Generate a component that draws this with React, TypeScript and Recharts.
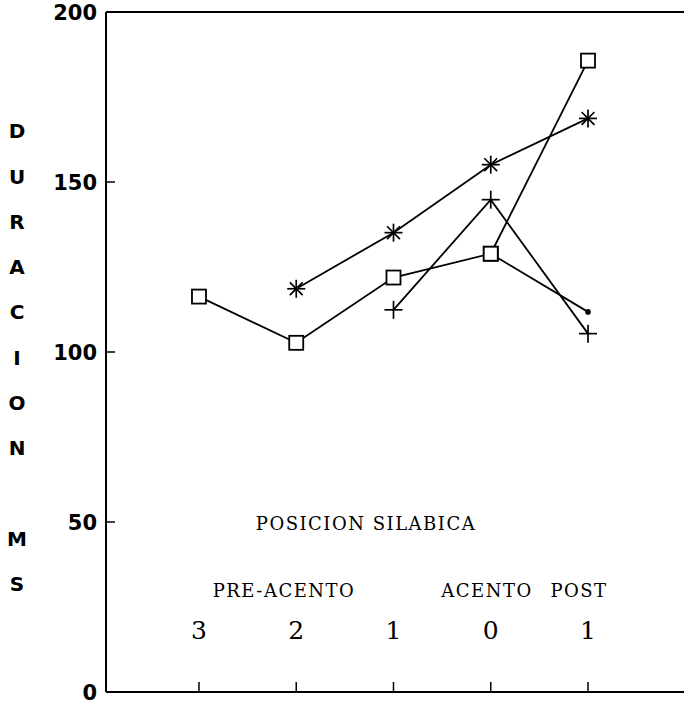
import React from "react";
import { LineChart, Line, XAxis, YAxis, ReferenceLine } from "recharts";

// silabic positions: 3, 2, 1 pre-accent, 0 accent, 1 post-accent
const positions = [0, 1, 2, 3, 4];
const posLabels = ["3", "2", "1", "0", "1"];

// duration (ms)
const squareA = [116.3, 102.7, 121.9, 128.9, 111.8];
const asterisk = [null, 118.6, 135.1, 155.1, 168.7];
const cross = [null, null, 112.4, 144.8, 105.4];
const squareB = [null, null, null, 128.9, 185.7];

const yTicks = [0, 50, 100, 150, 200];
const yLetters = ["D", "U", "R", "A", "C", "I", "O", "N", "", "M", "S"];

const data = positions.map((p, i) => ({
  pos: p,
  squareA: squareA[i],
  asterisk: asterisk[i],
  cross: cross[i],
  squareB: squareB[i],
}));

const INK = "#000";
const SERIF = "'DejaVu Serif', serif";
const SANS = "'DejaVu Sans', sans-serif";

const empty = (props: any) => <g key={`e-${props.index}`} />;

const squareDot = (props: any) => {
  const { cx, cy, index, value } = props;
  if (cy == null || value == null) return empty(props);
  return (
    <rect key={`s-${index}`} x={cx - 7} y={cy - 7} width={14} height={14}
      fill="#fff" stroke={INK} strokeWidth={1.8} />
  );
};

const squareOrPoint = (props: any) => {
  const { cx, cy, index, value } = props;
  if (cy == null || value == null) return empty(props);
  if (index === 4) return <circle key={`p-${index}`} cx={cx} cy={cy} r={2.8} fill={INK} />;
  return squareDot(props);
};

const asteriskDot = (props: any) => {
  const { cx, cy, index, value } = props;
  if (cy == null || value == null) return empty(props);
  const r = 9;
  const d = 6.4;
  return (
    <g key={`a-${index}`} stroke={INK} strokeWidth={1.7}>
      <line x1={cx - r} y1={cy} x2={cx + r} y2={cy} />
      <line x1={cx} y1={cy - r} x2={cx} y2={cy + r} />
      <line x1={cx - d} y1={cy - d} x2={cx + d} y2={cy + d} />
      <line x1={cx - d} y1={cy + d} x2={cx + d} y2={cy - d} />
    </g>
  );
};

const crossDot = (props: any) => {
  const { cx, cy, index, value } = props;
  if (cy == null || value == null) return empty(props);
  return (
    <g key={`c-${index}`} stroke={INK} strokeWidth={1.7}>
      <line x1={cx - 9} y1={cy} x2={cx + 9} y2={cy} />
      <line x1={cx} y1={cy - 9} x2={cx} y2={cy + 9} />
    </g>
  );
};

const XTick = (props: any) => {
  const { x, y, payload } = props;
  return (
    <g>
      <line x1={x} x2={x} y1={y} y2={y - 10} stroke={INK} strokeWidth={1.5} />
      <text x={x} y={y - 53} textAnchor="middle" fontFamily={SERIF} fontSize={25} fill={INK}>
        {posLabels[payload.value]}
      </text>
    </g>
  );
};

const YTick = (props: any) => {
  const { x, y, payload } = props;
  return (
    <g>
      <line x1={x} x2={x + 9} y1={y} y2={y} stroke={INK} strokeWidth={1.5} />
      <text x={x - 9} y={y} dy="0.36em" textAnchor="end" fontFamily={SANS}
        fontWeight="bold" fontSize={21} fill={INK}>
        {payload.value}
      </text>
    </g>
  );
};

const serifText = {
  fontFamily: SERIF,
  fontSize: 18,
  letterSpacing: 1.5,
  fill: INK,
};

export default function App() {
  return (
    <div style={{ position: "fixed", left: 0, top: 0, width: 684, height: 704, background: "#fff" }}>
      <LineChart width={684} height={704} data={data}
        margin={{ top: 12, right: 0, bottom: 0, left: 0 }}>
        <XAxis dataKey="pos" type="number" domain={[-0.956, 4.987]} ticks={positions}
          interval={0} height={12} tickSize={0} tickMargin={0} tickLine={false}
          axisLine={{ stroke: INK, strokeWidth: 2 }} tick={<XTick />} />
        <YAxis type="number" domain={[0, 200]} ticks={yTicks} interval={0} width={106}
          tickSize={0} tickMargin={0} tickLine={false}
          axisLine={{ stroke: INK, strokeWidth: 2 }} tick={<YTick />} />
        <ReferenceLine y={200} stroke={INK} strokeWidth={2} />
        <Line dataKey="squareA" stroke={INK} strokeWidth={1.8} dot={squareOrPoint}
          isAnimationActive={false} />
        <Line dataKey="squareB" stroke={INK} strokeWidth={1.8} dot={squareDot}
          isAnimationActive={false} />
        <Line dataKey="asterisk" stroke={INK} strokeWidth={1.8} dot={asteriskDot}
          isAnimationActive={false} />
        <Line dataKey="cross" stroke={INK} strokeWidth={1.8} dot={crossDot}
          isAnimationActive={false} />
      </LineChart>
      <svg width={684} height={704} style={{ position: "absolute", left: 0, top: 0, pointerEvents: "none" }}>
        {yLetters.map((ch, i) => (
          <text key={i} x={17} y={131 + 45.3 * i} dy="0.36em" textAnchor="middle"
            fontFamily={SANS} fontWeight="bold" fontSize={20} fill={INK}>
            {ch}
          </text>
        ))}
        <text x={366} y={530} textAnchor="middle" style={serifText}>POSICION SILABICA</text>
        <text x={284} y={597} textAnchor="middle" style={serifText}>PRE-ACENTO</text>
        <text x={487} y={597} textAnchor="middle" style={serifText}>ACENTO</text>
        <text x={579} y={597} textAnchor="middle" style={serifText}>POST</text>
      </svg>
    </div>
  );
}
